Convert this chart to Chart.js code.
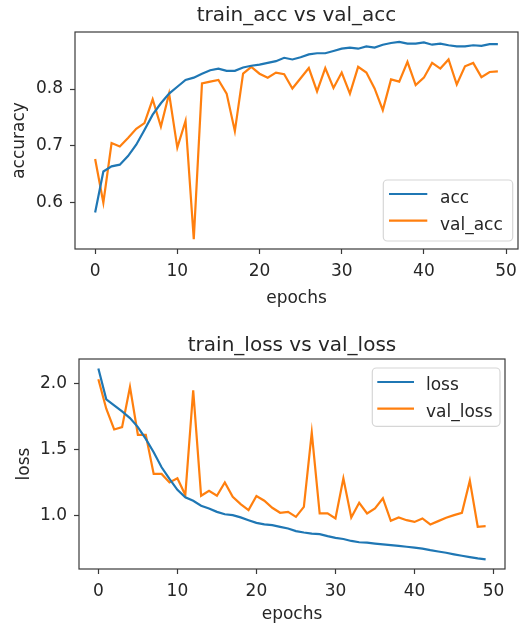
<!DOCTYPE html>
<html><head><meta charset="utf-8">
<script src="https://cdn.jsdelivr.net/npm/chart.js@4.4.0/dist/chart.umd.min.js"></script>
<style>
html,body{margin:0;padding:0;background:#fff;}
#wrap{position:relative;width:525px;height:625px;overflow:hidden;}
.box{position:absolute;left:0;}
</style></head><body>
<div id="wrap">
  <div class="box" style="top:0;width:525px;height:312px"><canvas id="c1" width="525" height="312"></canvas></div>
  <div class="box" style="top:312px;width:525px;height:313px"><canvas id="c2" width="525" height="313"></canvas></div>
</div>
<script>
const epochs = [0,1,2,3,4,5,6,7,8,9,10,11,12,13,14,15,16,17,18,19,20,21,22,23,24,25,26,27,28,29,30,31,32,33,34,35,36,37,38,39,40,41,42,43,44,45,46,47,48,49];
const acc = [0.583,0.655,0.664,0.667,0.682,0.702,0.728,0.755,0.775,0.792,0.804,0.816,0.820,0.827,0.833,0.836,0.832,0.832,0.838,0.841,0.843,0.846,0.849,0.855,0.852,0.856,0.861,0.863,0.863,0.867,0.871,0.873,0.871,0.875,0.873,0.878,0.881,0.883,0.880,0.880,0.882,0.878,0.880,0.877,0.875,0.875,0.877,0.876,0.879,0.879];
const valAcc = [0.677,0.600,0.705,0.699,0.714,0.730,0.740,0.782,0.734,0.792,0.697,0.744,0.536,0.810,0.813,0.816,0.792,0.726,0.827,0.839,0.827,0.820,0.829,0.826,0.801,0.819,0.837,0.796,0.837,0.802,0.829,0.792,0.839,0.829,0.801,0.763,0.817,0.813,0.848,0.807,0.820,0.846,0.836,0.852,0.808,0.840,0.846,0.821,0.830,0.831];
const loss = [2.114,1.881,1.835,1.790,1.739,1.671,1.582,1.481,1.367,1.279,1.197,1.140,1.114,1.076,1.056,1.030,1.012,1.005,0.988,0.967,0.947,0.935,0.929,0.917,0.904,0.884,0.874,0.866,0.861,0.846,0.833,0.825,0.810,0.800,0.797,0.790,0.784,0.778,0.772,0.766,0.760,0.752,0.740,0.730,0.721,0.709,0.698,0.688,0.678,0.670];
const valLoss = [2.033,1.810,1.653,1.671,1.975,1.613,1.613,1.317,1.317,1.253,1.284,1.157,1.949,1.152,1.190,1.152,1.253,1.144,1.089,1.043,1.150,1.114,1.061,1.023,1.030,0.992,1.068,1.630,1.018,1.018,0.980,1.284,0.987,1.099,1.018,1.056,1.132,0.962,0.988,0.967,0.954,0.980,0.935,0.960,0.985,1.005,1.023,1.266,0.917,0.922];
const xTicks = [0,10,20,30,40,50];
const accTicks = [0.6,0.7,0.8];
const lossTicks = [1.0,1.5,2.0];

const FONT = '"DejaVu Sans", sans-serif';
const TEXT = '#262626';
const BLUE = '#1f77b4';
const ORANGE = '#ff7f0e';

function pts(arr){ return arr.map((v,i)=>({x:epochs[i], y:v})); }
function lim(arrs){
  const all = [].concat(...arrs);
  const mn = Math.min(...all), mx = Math.max(...all), p = (mx-mn)*0.05;
  return [mn-p, mx+p];
}
const xLo = epochs[0] - (epochs[epochs.length-1]-epochs[0])*0.05;
const xHi = epochs[epochs.length-1] + (epochs[epochs.length-1]-epochs[0])*0.05;

const frame = {
  id:'frame',
  afterDatasetsDraw(chart){
    const {ctx, chartArea:a} = chart;
    ctx.save(); ctx.strokeStyle='#3a3a3a'; ctx.lineWidth=1.2;
    ctx.strokeRect(a.left, a.top, a.right-a.left, a.bottom-a.top);
    ctx.restore();
  }
};
const axTitle = {
  id:'axTitle',
  afterDraw(chart, args, o){
    const {ctx, chartArea:a} = chart;
    ctx.save();
    ctx.fillStyle = TEXT; ctx.font = '20px ' + FONT;
    ctx.textAlign='center'; ctx.textBaseline='middle';
    ctx.fillText(o.text, (a.left+a.right)/2, o.y);
    ctx.restore();
  }
};
const mplLegend = {
  id:'mplLegend',
  afterDraw(chart, args, o){
    const {ctx, chartArea:a} = chart;
    const x = a.right - o.right - o.w;
    const y = o.corner === 'lower' ? a.bottom - o.bottom - o.h : a.top + o.top;
    ctx.save();
    ctx.beginPath(); ctx.roundRect(x, y, o.w, o.h, 4);
    ctx.fillStyle='rgba(255,255,255,0.85)'; ctx.fill();
    ctx.strokeStyle='#d6d6d6'; ctx.lineWidth=1.2; ctx.stroke();
    chart.data.datasets.forEach((ds,i)=>{
      const ly = y + o.row0 + i*o.rowGap;
      ctx.beginPath(); ctx.moveTo(x+o.padL, ly); ctx.lineTo(x+o.padL+o.len, ly);
      ctx.strokeStyle = ds.borderColor; ctx.lineWidth = ds.borderWidth; ctx.stroke();
      ctx.fillStyle = TEXT; ctx.font = '17px ' + FONT; ctx.textBaseline='alphabetic'; ctx.textAlign='left';
      ctx.fillText(ds.label, x+o.padL+o.len+o.gap, ly + o.base);
    });
    ctx.restore();
  }
};

function makeChart(id, cfg){
  const [yLo, yHi] = lim(cfg.series.map(s=>s.data));
  return new Chart(document.getElementById(id), {
    type:'line',
    data:{ datasets: cfg.series.map(s=>({
      label:s.label, data:pts(s.data), borderColor:s.color, backgroundColor:s.color,
      borderWidth:2.2, pointRadius:0, tension:0, fill:false
    }))},
    options:{
      responsive:false, animation:false, devicePixelRatio:1,
      layout:{padding:{left:0, right:cfg.padRight, top:cfg.padTop, bottom:0}},
      plugins:{
        legend:{display:false}, tooltip:{enabled:false}, title:{display:false},
        axTitle:{text:cfg.title, y:cfg.titleY},
        mplLegend:cfg.legend
      },
      scales:{
        x:{ type:'linear', min:xLo, max:xHi,
          afterFit:s=>{ s.height = cfg.xH; },
          afterBuildTicks:ax=>{ ax.ticks = xTicks.map(v=>({value:v})); },
          grid:{drawOnChartArea:false, drawTicks:true, tickLength:5, tickWidth:1.2, color:'#3a3a3a'},
          border:{display:false},
          ticks:{color:TEXT, font:{family:FONT, size:17}, padding:7, maxRotation:0, callback:v=>String(v)},
          title:{display:true, text:'epochs', color:TEXT, font:{family:FONT, size:17}, padding:{top:0, bottom:cfg.xTitleBottom}}
        },
        y:{ type:'linear', min:yLo, max:yHi,
          afterFit:s=>{ s.width = cfg.yW; },
          afterBuildTicks:ax=>{ ax.ticks = cfg.yTicks.map(v=>({value:v})); },
          grid:{drawOnChartArea:false, drawTicks:true, tickLength:5, tickWidth:1.2, color:'#3a3a3a'},
          border:{display:false},
          ticks:{color:TEXT, font:{family:FONT, size:17}, padding:7, callback:v=>Number(v).toFixed(1)},
          title:{display:true, text:cfg.yLabel, color:TEXT, font:{family:FONT, size:17}, padding:{top:cfg.yTitleTop, bottom:0}}
        }
      }
    },
    plugins:[frame, axTitle, mplLegend]
  });
}

makeChart('c1', {
  title:'train_acc vs val_acc', titleY:16, padTop:32, yLabel:'accuracy', yTicks:accTicks,
  series:[{label:'acc', data:acc, color:BLUE},{label:'val_acc', data:valAcc, color:ORANGE}],
  padRight:7, xH:63, yW:75, xTitleBottom:3.5, yTitleTop:9.5,
  legend:{corner:'lower', w:129.4, h:61, right:5.3, bottom:8, row0:14, rowGap:26.7, padL:5.7, len:38.3, gap:12.7, base:9}
});
makeChart('c2', {
  title:'train_loss vs val_loss', titleY:34, padTop:47, yLabel:'loss', yTicks:lossTicks,
  series:[{label:'loss', data:loss, color:BLUE},{label:'val_loss', data:valLoss, color:ORANGE}],
  padRight:20, xH:56, yW:79, xTitleBottom:0, yTitleTop:14.8,
  legend:{corner:'upper', w:127.7, h:58.3, right:5, top:9, row0:14, rowGap:26.7, padL:5, len:36.7, gap:12, base:8}
});
</script>
</body></html>
